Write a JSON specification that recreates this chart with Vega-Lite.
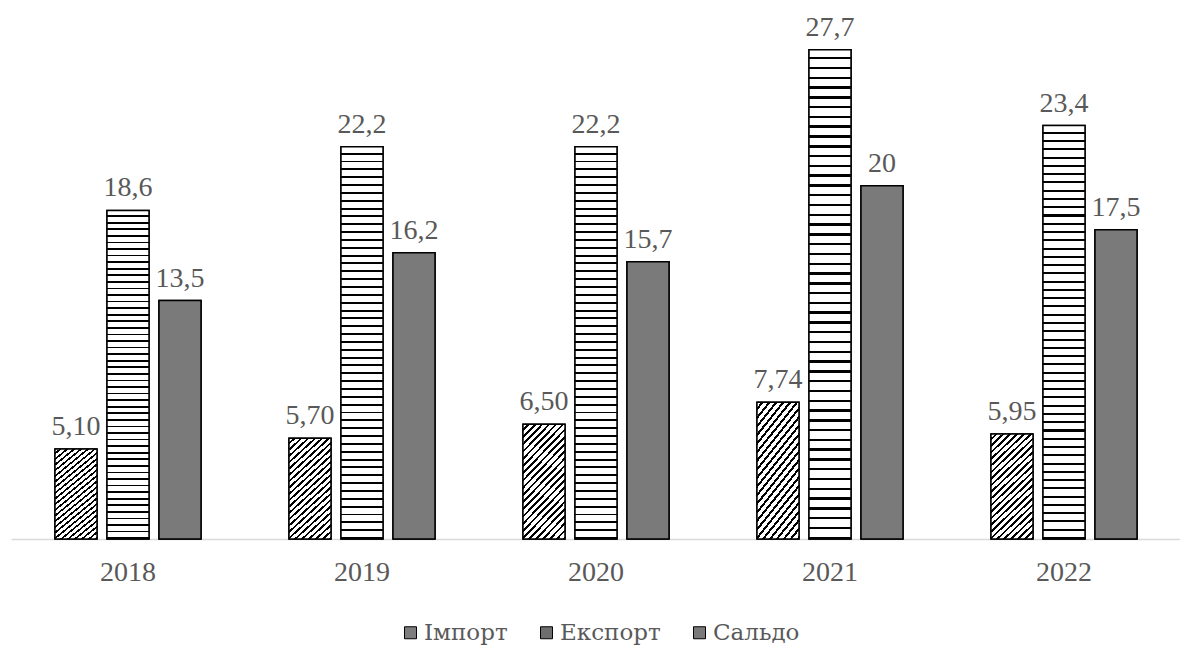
{
  "$schema": "https://vega.github.io/schema/vega-lite/v6.json",
  "width": 1170,
  "height": 530,
  "autosize": "none",
  "padding": {"left": 11, "top": 9, "right": 0, "bottom": 108},
  "background": "white",
  "config": {
    "view": {"stroke": null},
    "font": "Liberation Serif"
  },
  "data": {
    "values": [
      {"year": "2018", "series": "Імпорт", "value": 5.10, "label": "5,10"},
      {"year": "2018", "series": "Експорт", "value": 18.6, "label": "18,6"},
      {"year": "2018", "series": "Сальдо", "value": 13.5, "label": "13,5"},
      {"year": "2019", "series": "Імпорт", "value": 5.70, "label": "5,70"},
      {"year": "2019", "series": "Експорт", "value": 22.2, "label": "22,2"},
      {"year": "2019", "series": "Сальдо", "value": 16.2, "label": "16,2"},
      {"year": "2020", "series": "Імпорт", "value": 6.50, "label": "6,50"},
      {"year": "2020", "series": "Експорт", "value": 22.2, "label": "22,2"},
      {"year": "2020", "series": "Сальдо", "value": 15.7, "label": "15,7"},
      {"year": "2021", "series": "Імпорт", "value": 7.74, "label": "7,74"},
      {"year": "2021", "series": "Експорт", "value": 27.7, "label": "27,7"},
      {"year": "2021", "series": "Сальдо", "value": 20, "label": "20"},
      {"year": "2022", "series": "Імпорт", "value": 5.95, "label": "5,95"},
      {"year": "2022", "series": "Експорт", "value": 23.4, "label": "23,4"},
      {"year": "2022", "series": "Сальдо", "value": 17.5, "label": "17,5"}
    ]
  },
  "encoding": {
    "x": {
      "field": "year",
      "type": "nominal",
      "scale": {"paddingInner": 0.376, "paddingOuter": 0.188},
      "axis": {
        "title": null,
        "labelAngle": 0,
        "ticks": false,
        "domainColor": "#d9d9d9",
        "domainWidth": 1.5,
        "labelFont": "Liberation Serif",
        "labelFontSize": 28,
        "labelColor": "#595959",
        "labelPadding": 19
      }
    },
    "xOffset": {
      "field": "series",
      "type": "nominal",
      "scale": {"domain": ["Імпорт", "Експорт", "Сальдо"], "paddingInner": 0.1923, "paddingOuter": 0}
    },
    "y": {
      "field": "value",
      "type": "quantitative",
      "scale": {"domain": [0, 30]},
      "axis": null
    }
  },
  "layer": [
    {
      "mark": {"type": "bar", "stroke": "#000000", "strokeWidth": 1.5},
      "encoding": {
        "fill": {
          "field": "series",
          "type": "nominal",
          "scale": {"domain": ["Імпорт", "Експорт", "Сальдо"], "range": ["#7d7d7d", "#6e6e6e", "#7a7a7a"]},
          "legend": {
            "title": null,
            "orient": "none",
            "direction": "horizontal",
            "legendX": 388,
            "legendY": 612,
            "symbolType": "square",
            "symbolSize": 144,
            "symbolStrokeColor": "#000000",
            "symbolStrokeWidth": 1,
            "labelFont": "DejaVu Serif",
            "labelFontSize": 23,
            "labelColor": "#595959",
            "labelOffset": 2,
            "columnPadding": 27
          }
        }
      }
    },
    {
      "mark": {"type": "bar", "stroke": "#000000", "strokeWidth": 1.5},
      "encoding": {
        "fill": {
          "condition": [
            {
              "test": "datum.series === 'Імпорт'",
              "value": {
                "gradient": "linear", "x1": 0, "y1": 0, "x2": 0.461, "y2": 1.206,
                "stops": [
                  {"offset": 0, "color": "#ffffff"}, {"offset": 0.0282, "color": "#ffffff"}, {"offset": 0.0282, "color": "#000000"}, {"offset": 0.0455, "color": "#000000"},
                  {"offset": 0.0455, "color": "#ffffff"}, {"offset": 0.0736, "color": "#ffffff"}, {"offset": 0.0736, "color": "#000000"}, {"offset": 0.0909, "color": "#000000"},
                  {"offset": 0.0909, "color": "#ffffff"}, {"offset": 0.1191, "color": "#ffffff"}, {"offset": 0.1191, "color": "#000000"}, {"offset": 0.1364, "color": "#000000"},
                  {"offset": 0.1364, "color": "#ffffff"}, {"offset": 0.1645, "color": "#ffffff"}, {"offset": 0.1645, "color": "#000000"}, {"offset": 0.1818, "color": "#000000"},
                  {"offset": 0.1818, "color": "#ffffff"}, {"offset": 0.2100, "color": "#ffffff"}, {"offset": 0.2100, "color": "#000000"}, {"offset": 0.2273, "color": "#000000"},
                  {"offset": 0.2273, "color": "#ffffff"}, {"offset": 0.2555, "color": "#ffffff"}, {"offset": 0.2555, "color": "#000000"}, {"offset": 0.2727, "color": "#000000"},
                  {"offset": 0.2727, "color": "#ffffff"}, {"offset": 0.3009, "color": "#ffffff"}, {"offset": 0.3009, "color": "#000000"}, {"offset": 0.3182, "color": "#000000"},
                  {"offset": 0.3182, "color": "#ffffff"}, {"offset": 0.3464, "color": "#ffffff"}, {"offset": 0.3464, "color": "#000000"}, {"offset": 0.3636, "color": "#000000"},
                  {"offset": 0.3636, "color": "#ffffff"}, {"offset": 0.3918, "color": "#ffffff"}, {"offset": 0.3918, "color": "#000000"}, {"offset": 0.4091, "color": "#000000"},
                  {"offset": 0.4091, "color": "#ffffff"}, {"offset": 0.4373, "color": "#ffffff"}, {"offset": 0.4373, "color": "#000000"}, {"offset": 0.4545, "color": "#000000"},
                  {"offset": 0.4545, "color": "#ffffff"}, {"offset": 0.4827, "color": "#ffffff"}, {"offset": 0.4827, "color": "#000000"}, {"offset": 0.5000, "color": "#000000"},
                  {"offset": 0.5000, "color": "#ffffff"}, {"offset": 0.5282, "color": "#ffffff"}, {"offset": 0.5282, "color": "#000000"}, {"offset": 0.5455, "color": "#000000"},
                  {"offset": 0.5455, "color": "#ffffff"}, {"offset": 0.5736, "color": "#ffffff"}, {"offset": 0.5736, "color": "#000000"}, {"offset": 0.5909, "color": "#000000"},
                  {"offset": 0.5909, "color": "#ffffff"}, {"offset": 0.6191, "color": "#ffffff"}, {"offset": 0.6191, "color": "#000000"}, {"offset": 0.6364, "color": "#000000"},
                  {"offset": 0.6364, "color": "#ffffff"}, {"offset": 0.6645, "color": "#ffffff"}, {"offset": 0.6645, "color": "#000000"}, {"offset": 0.6818, "color": "#000000"},
                  {"offset": 0.6818, "color": "#ffffff"}, {"offset": 0.7100, "color": "#ffffff"}, {"offset": 0.7100, "color": "#000000"}, {"offset": 0.7273, "color": "#000000"},
                  {"offset": 0.7273, "color": "#ffffff"}, {"offset": 0.7555, "color": "#ffffff"}, {"offset": 0.7555, "color": "#000000"}, {"offset": 0.7727, "color": "#000000"},
                  {"offset": 0.7727, "color": "#ffffff"}, {"offset": 0.8009, "color": "#ffffff"}, {"offset": 0.8009, "color": "#000000"}, {"offset": 0.8182, "color": "#000000"},
                  {"offset": 0.8182, "color": "#ffffff"}, {"offset": 0.8464, "color": "#ffffff"}, {"offset": 0.8464, "color": "#000000"}, {"offset": 0.8636, "color": "#000000"},
                  {"offset": 0.8636, "color": "#ffffff"}, {"offset": 0.8918, "color": "#ffffff"}, {"offset": 0.8918, "color": "#000000"}, {"offset": 0.9091, "color": "#000000"},
                  {"offset": 0.9091, "color": "#ffffff"}, {"offset": 0.9373, "color": "#ffffff"}, {"offset": 0.9373, "color": "#000000"}, {"offset": 0.9545, "color": "#000000"},
                  {"offset": 0.9545, "color": "#ffffff"}, {"offset": 0.9827, "color": "#ffffff"}, {"offset": 0.9827, "color": "#000000"}, {"offset": 1, "color": "#000000"}
                ]
              }
            },
            {
              "test": "datum.series === 'Експорт'",
              "value": {
                "gradient": "linear", "x1": 0, "y1": 0, "x2": 0, "y2": 1,
                "stops": [
                  {"offset": 0.00, "color": "#ffffff"}, {"offset": 0.015, "color": "#ffffff"}, {"offset": 0.015, "color": "#000000"}, {"offset": 0.02, "color": "#000000"},
                  {"offset": 0.02, "color": "#ffffff"}, {"offset": 0.035, "color": "#ffffff"}, {"offset": 0.035, "color": "#000000"}, {"offset": 0.04, "color": "#000000"},
                  {"offset": 0.04, "color": "#ffffff"}, {"offset": 0.055, "color": "#ffffff"}, {"offset": 0.055, "color": "#000000"}, {"offset": 0.06, "color": "#000000"},
                  {"offset": 0.06, "color": "#ffffff"}, {"offset": 0.075, "color": "#ffffff"}, {"offset": 0.075, "color": "#000000"}, {"offset": 0.08, "color": "#000000"},
                  {"offset": 0.08, "color": "#ffffff"}, {"offset": 0.095, "color": "#ffffff"}, {"offset": 0.095, "color": "#000000"}, {"offset": 0.10, "color": "#000000"},
                  {"offset": 0.10, "color": "#ffffff"}, {"offset": 0.115, "color": "#ffffff"}, {"offset": 0.115, "color": "#000000"}, {"offset": 0.12, "color": "#000000"},
                  {"offset": 0.12, "color": "#ffffff"}, {"offset": 0.135, "color": "#ffffff"}, {"offset": 0.135, "color": "#000000"}, {"offset": 0.14, "color": "#000000"},
                  {"offset": 0.14, "color": "#ffffff"}, {"offset": 0.155, "color": "#ffffff"}, {"offset": 0.155, "color": "#000000"}, {"offset": 0.16, "color": "#000000"},
                  {"offset": 0.16, "color": "#ffffff"}, {"offset": 0.175, "color": "#ffffff"}, {"offset": 0.175, "color": "#000000"}, {"offset": 0.18, "color": "#000000"},
                  {"offset": 0.18, "color": "#ffffff"}, {"offset": 0.195, "color": "#ffffff"}, {"offset": 0.195, "color": "#000000"}, {"offset": 0.20, "color": "#000000"},
                  {"offset": 0.20, "color": "#ffffff"}, {"offset": 0.215, "color": "#ffffff"}, {"offset": 0.215, "color": "#000000"}, {"offset": 0.22, "color": "#000000"},
                  {"offset": 0.22, "color": "#ffffff"}, {"offset": 0.235, "color": "#ffffff"}, {"offset": 0.235, "color": "#000000"}, {"offset": 0.24, "color": "#000000"},
                  {"offset": 0.24, "color": "#ffffff"}, {"offset": 0.255, "color": "#ffffff"}, {"offset": 0.255, "color": "#000000"}, {"offset": 0.26, "color": "#000000"},
                  {"offset": 0.26, "color": "#ffffff"}, {"offset": 0.275, "color": "#ffffff"}, {"offset": 0.275, "color": "#000000"}, {"offset": 0.28, "color": "#000000"},
                  {"offset": 0.28, "color": "#ffffff"}, {"offset": 0.295, "color": "#ffffff"}, {"offset": 0.295, "color": "#000000"}, {"offset": 0.30, "color": "#000000"},
                  {"offset": 0.30, "color": "#ffffff"}, {"offset": 0.315, "color": "#ffffff"}, {"offset": 0.315, "color": "#000000"}, {"offset": 0.32, "color": "#000000"},
                  {"offset": 0.32, "color": "#ffffff"}, {"offset": 0.335, "color": "#ffffff"}, {"offset": 0.335, "color": "#000000"}, {"offset": 0.34, "color": "#000000"},
                  {"offset": 0.34, "color": "#ffffff"}, {"offset": 0.355, "color": "#ffffff"}, {"offset": 0.355, "color": "#000000"}, {"offset": 0.36, "color": "#000000"},
                  {"offset": 0.36, "color": "#ffffff"}, {"offset": 0.375, "color": "#ffffff"}, {"offset": 0.375, "color": "#000000"}, {"offset": 0.38, "color": "#000000"},
                  {"offset": 0.38, "color": "#ffffff"}, {"offset": 0.395, "color": "#ffffff"}, {"offset": 0.395, "color": "#000000"}, {"offset": 0.40, "color": "#000000"},
                  {"offset": 0.40, "color": "#ffffff"}, {"offset": 0.415, "color": "#ffffff"}, {"offset": 0.415, "color": "#000000"}, {"offset": 0.42, "color": "#000000"},
                  {"offset": 0.42, "color": "#ffffff"}, {"offset": 0.435, "color": "#ffffff"}, {"offset": 0.435, "color": "#000000"}, {"offset": 0.44, "color": "#000000"},
                  {"offset": 0.44, "color": "#ffffff"}, {"offset": 0.455, "color": "#ffffff"}, {"offset": 0.455, "color": "#000000"}, {"offset": 0.46, "color": "#000000"},
                  {"offset": 0.46, "color": "#ffffff"}, {"offset": 0.475, "color": "#ffffff"}, {"offset": 0.475, "color": "#000000"}, {"offset": 0.48, "color": "#000000"},
                  {"offset": 0.48, "color": "#ffffff"}, {"offset": 0.495, "color": "#ffffff"}, {"offset": 0.495, "color": "#000000"}, {"offset": 0.50, "color": "#000000"},
                  {"offset": 0.50, "color": "#ffffff"}, {"offset": 0.515, "color": "#ffffff"}, {"offset": 0.515, "color": "#000000"}, {"offset": 0.52, "color": "#000000"},
                  {"offset": 0.52, "color": "#ffffff"}, {"offset": 0.535, "color": "#ffffff"}, {"offset": 0.535, "color": "#000000"}, {"offset": 0.54, "color": "#000000"},
                  {"offset": 0.54, "color": "#ffffff"}, {"offset": 0.555, "color": "#ffffff"}, {"offset": 0.555, "color": "#000000"}, {"offset": 0.56, "color": "#000000"},
                  {"offset": 0.56, "color": "#ffffff"}, {"offset": 0.575, "color": "#ffffff"}, {"offset": 0.575, "color": "#000000"}, {"offset": 0.58, "color": "#000000"},
                  {"offset": 0.58, "color": "#ffffff"}, {"offset": 0.595, "color": "#ffffff"}, {"offset": 0.595, "color": "#000000"}, {"offset": 0.60, "color": "#000000"},
                  {"offset": 0.60, "color": "#ffffff"}, {"offset": 0.615, "color": "#ffffff"}, {"offset": 0.615, "color": "#000000"}, {"offset": 0.62, "color": "#000000"},
                  {"offset": 0.62, "color": "#ffffff"}, {"offset": 0.635, "color": "#ffffff"}, {"offset": 0.635, "color": "#000000"}, {"offset": 0.64, "color": "#000000"},
                  {"offset": 0.64, "color": "#ffffff"}, {"offset": 0.655, "color": "#ffffff"}, {"offset": 0.655, "color": "#000000"}, {"offset": 0.66, "color": "#000000"},
                  {"offset": 0.66, "color": "#ffffff"}, {"offset": 0.675, "color": "#ffffff"}, {"offset": 0.675, "color": "#000000"}, {"offset": 0.68, "color": "#000000"},
                  {"offset": 0.68, "color": "#ffffff"}, {"offset": 0.695, "color": "#ffffff"}, {"offset": 0.695, "color": "#000000"}, {"offset": 0.70, "color": "#000000"},
                  {"offset": 0.70, "color": "#ffffff"}, {"offset": 0.715, "color": "#ffffff"}, {"offset": 0.715, "color": "#000000"}, {"offset": 0.72, "color": "#000000"},
                  {"offset": 0.72, "color": "#ffffff"}, {"offset": 0.735, "color": "#ffffff"}, {"offset": 0.735, "color": "#000000"}, {"offset": 0.74, "color": "#000000"},
                  {"offset": 0.74, "color": "#ffffff"}, {"offset": 0.755, "color": "#ffffff"}, {"offset": 0.755, "color": "#000000"}, {"offset": 0.76, "color": "#000000"},
                  {"offset": 0.76, "color": "#ffffff"}, {"offset": 0.775, "color": "#ffffff"}, {"offset": 0.775, "color": "#000000"}, {"offset": 0.78, "color": "#000000"},
                  {"offset": 0.78, "color": "#ffffff"}, {"offset": 0.795, "color": "#ffffff"}, {"offset": 0.795, "color": "#000000"}, {"offset": 0.80, "color": "#000000"},
                  {"offset": 0.80, "color": "#ffffff"}, {"offset": 0.815, "color": "#ffffff"}, {"offset": 0.815, "color": "#000000"}, {"offset": 0.82, "color": "#000000"},
                  {"offset": 0.82, "color": "#ffffff"}, {"offset": 0.835, "color": "#ffffff"}, {"offset": 0.835, "color": "#000000"}, {"offset": 0.84, "color": "#000000"},
                  {"offset": 0.84, "color": "#ffffff"}, {"offset": 0.855, "color": "#ffffff"}, {"offset": 0.855, "color": "#000000"}, {"offset": 0.86, "color": "#000000"},
                  {"offset": 0.86, "color": "#ffffff"}, {"offset": 0.875, "color": "#ffffff"}, {"offset": 0.875, "color": "#000000"}, {"offset": 0.88, "color": "#000000"},
                  {"offset": 0.88, "color": "#ffffff"}, {"offset": 0.895, "color": "#ffffff"}, {"offset": 0.895, "color": "#000000"}, {"offset": 0.90, "color": "#000000"},
                  {"offset": 0.90, "color": "#ffffff"}, {"offset": 0.915, "color": "#ffffff"}, {"offset": 0.915, "color": "#000000"}, {"offset": 0.92, "color": "#000000"},
                  {"offset": 0.92, "color": "#ffffff"}, {"offset": 0.935, "color": "#ffffff"}, {"offset": 0.935, "color": "#000000"}, {"offset": 0.94, "color": "#000000"},
                  {"offset": 0.94, "color": "#ffffff"}, {"offset": 0.955, "color": "#ffffff"}, {"offset": 0.955, "color": "#000000"}, {"offset": 0.96, "color": "#000000"},
                  {"offset": 0.96, "color": "#ffffff"}, {"offset": 0.975, "color": "#ffffff"}, {"offset": 0.975, "color": "#000000"}, {"offset": 0.98, "color": "#000000"},
                  {"offset": 0.98, "color": "#ffffff"}, {"offset": 0.995, "color": "#ffffff"}, {"offset": 0.995, "color": "#000000"}, {"offset": 1, "color": "#000000"}
                ]
              }
            }
          ],
          "value": "#7a7a7a"
        }
      }
    },
    {
      "mark": {
        "type": "text",
        "baseline": "bottom",
        "dy": -8,
        "font": "Liberation Serif",
        "fontSize": 28,
        "color": "#595959"
      },
      "encoding": {
        "text": {"field": "label", "type": "nominal"}
      }
    }
  ]
}
